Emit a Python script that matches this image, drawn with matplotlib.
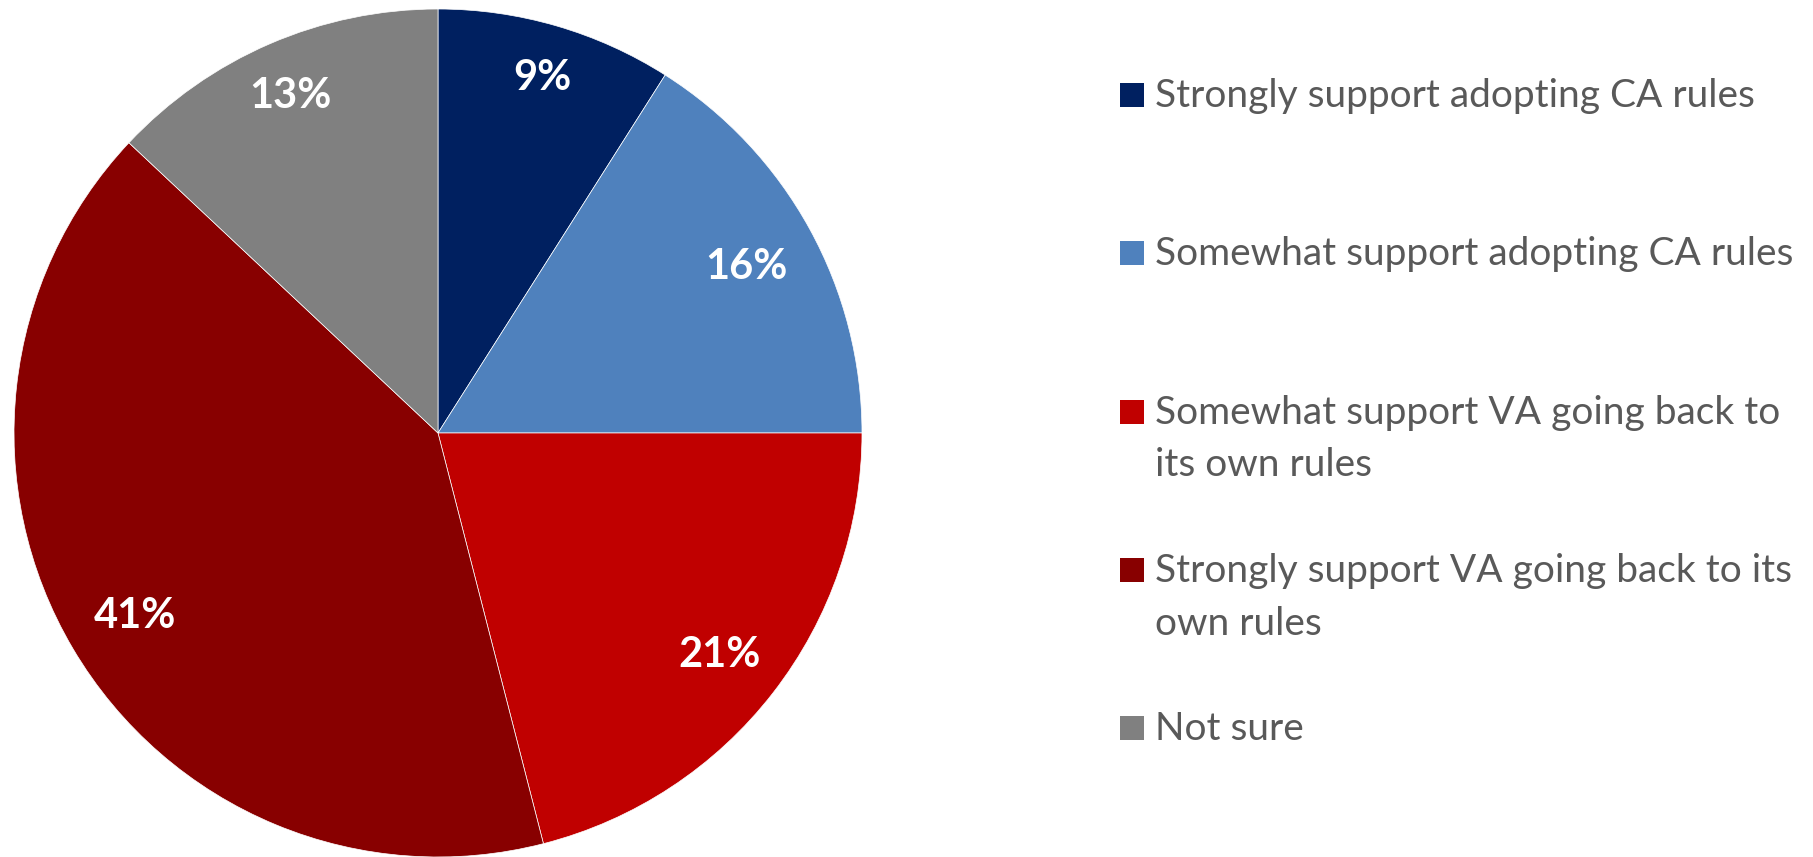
import matplotlib
matplotlib.use("Agg")
import numpy as np
import matplotlib.pyplot as plt
from matplotlib.patches import Rectangle

categories = [
    "Strongly support adopting CA rules",
    "Somewhat support adopting CA rules",
    "Somewhat support VA going back to\nits own rules",
    "Strongly support VA going back to its\nown rules",
    "Not sure",
]
shares = [9, 16, 21, 41, 13]
colors = ["#002060", "#4F81BD", "#C00000", "#880000", "#808080"]

W, H = 1813, 857
fig = plt.figure(figsize=(W / 100, H / 100), dpi=100)

# pie axes: centre (438, 433) px, radius 424 px
cx, cy, r = 438, 433, 424
ax = fig.add_axes([(cx - r) / W, (H - cy - r) / H, 2 * r / W, 2 * r / H])
wedges, texts, autotexts = ax.pie(
    shares, colors=colors, startangle=90, counterclock=False, radius=1,
    autopct=lambda p: f"{p:.0f}%", pctdistance=0.85,
    wedgeprops=dict(edgecolor="white", linewidth=0.5),
    textprops=dict(color="white", fontsize=30, fontweight="bold", family="Lato"),
)

# nudge the percentage labels radially (small slices sit further out)
label_r = [0.88, 0.83, 0.84, 0.83, 0.875]
for w, t, rr in zip(wedges, autotexts, label_r):
    ang = np.deg2rad((w.theta1 + w.theta2) / 2)
    t.set_position((rr * np.cos(ang), rr * np.sin(ang)))
    t.set_verticalalignment("center_baseline")

ax.set_xlim(-1, 1)
ax.set_ylim(-1, 1)
ax.set_aspect("equal")
ax.axis("off")

# legend drawn by hand: marker sits on the first line of wrapped entries
x_box, x_txt, box = 1120, 1155, 24
row_gap, line_gap = 158.25, 53
for i, (lab, col) in enumerate(zip(categories, colors)):
    base = 107 + i * row_gap
    fig.patches.append(Rectangle((x_box / W, 1 - base / H), box / W, box / H,
                                 transform=fig.transFigure, facecolor=col, edgecolor="none"))
    for k, line in enumerate(lab.split("\n")):
        fig.text(x_txt / W, 1 - (base + k * line_gap) / H, line, color="#595959",
                 fontsize=28, family="Lato", va="baseline", ha="left")

fig.savefig("out.png", dpi=100)
